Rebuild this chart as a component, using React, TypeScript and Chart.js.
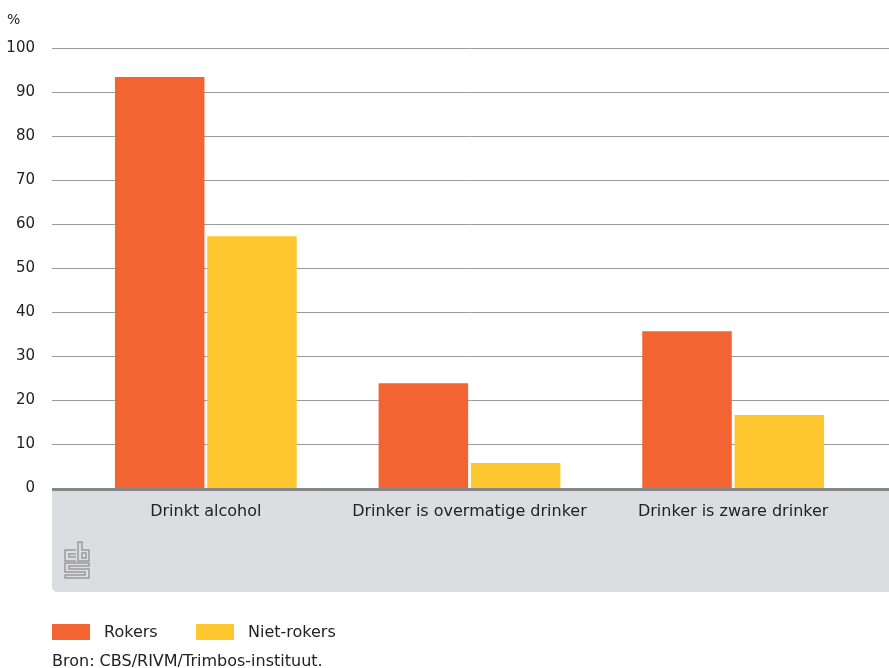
import React, { useEffect, useRef } from "react";
import { Chart, registerables } from "chart.js";

Chart.register(...registerables);

const categories = ["Drinkt alcohol", "Drinker is overmatige drinker", "Drinker is zware drinker"];
const rokers = [93.4, 23.8, 35.6];
const nietRokers = [57.2, 5.7, 16.6];
const yTicks = [0, 10, 20, 30, 40, 50, 60, 70, 80, 90, 100];
const seriesNames = ["Rokers", "Niet-rokers"];
const colors = ["#f26532", "#ffc72f"];
const sourceText = "Bron: CBS/RIVM/Trimbos-instituut.";

const FONT = "'DejaVu Sans', sans-serif";

const decorPlugin = {
  id: "decor",
  beforeDraw(chart: any) {
    const { ctx, scales } = chart;
    const y = scales.y;
    const left = 52;
    const right = 889;
    const y0 = y.getPixelForValue(0);
    ctx.save();
    const bottom = 592;
    const r = 6;
    ctx.fillStyle = "#dcdde0";
    ctx.beginPath();
    ctx.moveTo(left, y0);
    ctx.lineTo(right, y0);
    ctx.lineTo(right, bottom);
    ctx.lineTo(left + r, bottom);
    ctx.quadraticCurveTo(left, bottom, left, bottom - r);
    ctx.closePath();
    ctx.fill();
    ctx.strokeStyle = "#9a9b9e";
    ctx.lineWidth = 1;
    yTicks.forEach((v) => {
      if (v === 0) return;
      const py = Math.round(y.getPixelForValue(v)) + 0.5;
      ctx.beginPath();
      ctx.moveTo(left, py);
      ctx.lineTo(right, py);
      ctx.stroke();
    });
    ctx.fillStyle = "#222";
    ctx.font = `14px ${FONT}`;
    ctx.textAlign = "left";
    ctx.textBaseline = "middle";
    ctx.fillText("%", 7, 20);
    // logo
    ctx.strokeStyle = "#9a9b9e";
    ctx.lineWidth = 1.5;
    const lx = 65, ly = 542;
    ctx.beginPath();
    ctx.moveTo(lx + 11, ly + 8);
    ctx.lineTo(lx, ly + 8);
    ctx.lineTo(lx, ly + 19);
    ctx.lineTo(lx + 11, ly + 19);
    ctx.moveTo(lx + 11, ly + 12);
    ctx.lineTo(lx + 4, ly + 12);
    ctx.lineTo(lx + 4, ly + 15);
    ctx.lineTo(lx + 11, ly + 15);
    ctx.stroke();
    ctx.beginPath();
    ctx.moveTo(lx + 13, ly);
    ctx.lineTo(lx + 13, ly + 19);
    ctx.lineTo(lx + 24, ly + 19);
    ctx.lineTo(lx + 24, ly + 8);
    ctx.lineTo(lx + 17, ly + 8);
    ctx.lineTo(lx + 17, ly);
    ctx.closePath();
    ctx.stroke();
    ctx.strokeRect(lx + 17, ly + 11, 4, 5);
    ctx.beginPath();
    ctx.moveTo(lx + 24, ly + 21);
    ctx.lineTo(lx, ly + 21);
    ctx.lineTo(lx, ly + 30);
    ctx.lineTo(lx + 20, ly + 30);
    ctx.lineTo(lx + 20, ly + 33);
    ctx.lineTo(lx, ly + 33);
    ctx.lineTo(lx, ly + 36);
    ctx.lineTo(lx + 24, ly + 36);
    ctx.lineTo(lx + 24, ly + 27);
    ctx.lineTo(lx + 4, ly + 27);
    ctx.lineTo(lx + 4, ly + 24);
    ctx.lineTo(lx + 24, ly + 24);
    ctx.closePath();
    ctx.stroke();
    ctx.restore();
  },
  afterDatasetsDraw(chart: any) {
    const { ctx, scales } = chart;
    const y0 = Math.round(scales.y.getPixelForValue(0));
    ctx.save();
    ctx.fillStyle = "#86878b";
    ctx.fillRect(52, y0, 889 - 52, 3);
    ctx.restore();
  },
};

export default function App() {
  const ref = useRef<HTMLCanvasElement | null>(null);
  useEffect(() => {
    document.body.style.margin = "0";
    const canvas = ref.current;
    if (!canvas) return;
    const chart = new Chart(canvas, {
      type: "bar",
      data: {
        labels: categories,
        datasets: [
          { label: seriesNames[0], data: rokers, backgroundColor: colors[0], categoryPercentage: 0.7, barPercentage: 0.97 },
          { label: seriesNames[1], data: nietRokers, backgroundColor: colors[1], categoryPercentage: 0.7, barPercentage: 0.97 },
        ],
      },
      options: {
        animation: false,
        responsive: false,
        maintainAspectRatio: false,
        layout: { padding: { left: 0, right: 24, top: 47, bottom: 76 } },
        plugins: { legend: { display: false }, tooltip: { enabled: false } },
        scales: {
          x: {
            grid: { display: false, drawTicks: false },
            border: { display: false },
            ticks: { color: "#222", font: { family: FONT, size: 16 }, padding: 14 },
            afterFit: (s: any) => { s.height = 104; },
          },
          y: {
            min: 0,
            max: 100,
            grid: { display: false, drawTicks: false },
            border: { display: false },
            ticks: {
              stepSize: 10,
              color: "#222",
              font: { family: FONT, size: 15 },
              padding: 39,
            },
            afterFit: (s: any) => { s.width = 74; },
          },
        },
      },
      plugins: [decorPlugin],
    });
    return () => chart.destroy();
  }, []);

  const legendItem = (name: string, color: string, x: number) => (
    <div style={{ position: "absolute", left: x, top: 622, display: "flex", alignItems: "center" }}>
      <div style={{ width: 38, height: 16, background: color }} />
      <span style={{ marginLeft: 14, fontFamily: FONT, fontSize: 16, color: "#222" }}>{name}</span>
    </div>
  );

  return (
    <div style={{ position: "relative", width: 889, height: 668, background: "#fff" }}>
      <canvas ref={ref} width={889} height={668} style={{ position: "absolute", left: 0, top: 0 }} />
      {legendItem(seriesNames[0], colors[0], 52)}
      {legendItem(seriesNames[1], colors[1], 196)}
      <div style={{ position: "absolute", left: 52, top: 651, fontFamily: FONT, fontSize: 16, color: "#222" }}>
        {sourceText}
      </div>
    </div>
  );
}
